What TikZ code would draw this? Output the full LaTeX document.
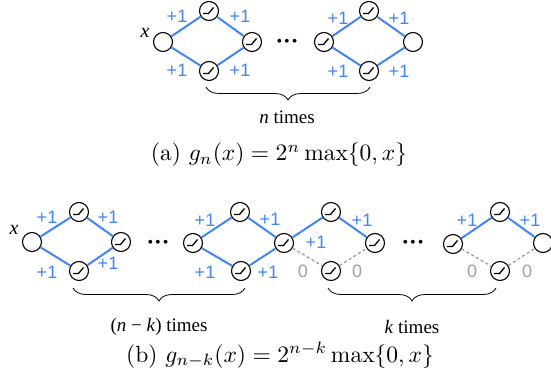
\documentclass[tikz,border=0pt]{standalone}
\usepackage{fontspec}
\usetikzlibrary{decorations.pathreplacing}
\newfontfamily\labfont{Liberation Sans}
\newfontfamily\timesfont{Liberation Serif}
\definecolor{eblue}{RGB}{66,133,244}
\definecolor{egray}{RGB}{160,160,160}
\begin{document}
\begin{tikzpicture}[x=1pt,y=-1pt,
  unit/.style={circle,draw=black,line width=1.1pt,fill=white,minimum size=19pt,inner sep=0pt},
  relu/.style={unit,path picture={\draw[line width=1.3pt,line join=round]
      ([xshift=-6pt,yshift=-2.5pt]path picture bounding box.center) -- ++(5.5pt,0) -- ++(5pt,6pt);}},
  wedge/.style={line width=2pt,draw=eblue},
  zedge/.style={line width=1.4pt,draw=egray,dash pattern=on 3pt off 2.5pt},
  wlab/.style={text=eblue,font=\labfont\fontsize{18}{18}\selectfont,inner sep=0pt},
  zlab/.style={text=egray,font=\labfont\fontsize{18}{18}\selectfont,inner sep=0pt},
  xlab/.style={font=\timesfont\itshape\fontsize{20}{20}\selectfont,inner sep=0pt},
  tlab/.style={font=\timesfont\fontsize{19}{19}\selectfont,inner sep=0pt},
  dotsnode/.style={font=\timesfont\fontsize{16}{16}\selectfont,inner sep=0pt},
  captext/.style={inner sep=0pt},
  brc/.style={decorate,decoration={brace,mirror,amplitude=13pt},line width=0.8pt}
]
\path[use as bounding box] (0,0) rectangle (551,380);

% ---------- (a) ----------
\node[unit] (a0) at (163,42) {};
\node[relu] (a1) at (209,11) {};
\node[relu] (a2) at (209,71) {};
\node[relu] (a3) at (252,42) {};
\node[dotsnode] (adots) at (287,43) {•\hspace{2pt}•\hspace{2pt}•};
\node[relu] (a4) at (324,42) {};
\node[relu] (a5) at (369,11) {};
\node[relu] (a6) at (369,71) {};
\node[unit] (a7) at (413,42) {};
\draw[wedge] (a0) -- (a1); \draw[wedge] (a1) -- (a3);
\draw[wedge] (a0) -- (a2); \draw[wedge] (a2) -- (a3);
\draw[wedge] (a4) -- (a5); \draw[wedge] (a5) -- (a7);
\draw[wedge] (a4) -- (a6); \draw[wedge] (a6) -- (a7);
\node[xlab] (ax) at (145,33) {x};
\node[wlab] (al1) at (177,16) {+1};
\node[wlab] (al2) at (240,16) {+1};
\node[wlab] (al3) at (177,70) {+1};
\node[wlab] (al4) at (240,70) {+1};
\node[wlab] (al5) at (338,18) {+1};
\node[wlab] (al6) at (399,18) {+1};
\node[wlab] (al7) at (338,71) {+1};
\node[wlab] (al8) at (399,71) {+1};
\coordinate (abl) at (206,87);
\coordinate (abr) at (370,87);
\draw[brc] (abl) -- (abr);
\node[tlab] (atimes) at (287,117) {\textit{n} times};
\node[captext] (acap) at (279,155) {\scalebox{2.35}{(a) $g_n(x) = 2^n \max\{0,x\}$}};

% ---------- (b) ----------
\node[unit] (b0) at (32,242) {};
\node[relu] (b1) at (79,212) {};
\node[relu] (b2) at (79,271) {};
\node[relu] (b3) at (121,242) {};
\node[dotsnode] (bdots) at (158,244) {•\hspace{2pt}•\hspace{2pt}•};
\node[relu] (c0) at (193,243) {};
\node[relu] (c1) at (240,212) {};
\node[relu] (c2) at (241,271) {};
\node[relu] (c3) at (284,243) {};
\node[relu] (d1) at (331,212) {};
\node[relu] (d2) at (331,271) {};
\node[relu] (d3) at (375,243) {};
\node[dotsnode] (ddots) at (413,244) {•\hspace{2pt}•\hspace{2pt}•};
\node[relu] (e0) at (453,244) {};
\node[relu] (e1) at (500,212) {};
\node[relu] (e2) at (500,271) {};
\node[unit] (e3) at (543,243) {};
\draw[wedge] (b0) -- (b1); \draw[wedge] (b1) -- (b3);
\draw[wedge] (b0) -- (b2); \draw[wedge] (b2) -- (b3);
\draw[wedge] (c0) -- (c1); \draw[wedge] (c1) -- (c3);
\draw[wedge] (c0) -- (c2); \draw[wedge] (c2) -- (c3);
\draw[wedge] (c3) -- (d1); \draw[wedge] (d1) -- (d3);
\draw[zedge] (c3) -- (d2); \draw[zedge] (d2) -- (d3);
\draw[wedge] (e0) -- (e1); \draw[wedge] (e1) -- (e3);
\draw[zedge] (e0) -- (e2); \draw[zedge] (e2) -- (e3);
\node[xlab] (bx) at (14,230) {x};
\node[wlab] (bl1) at (47,217) {+1};
\node[wlab] (bl2) at (108,217) {+1};
\node[wlab] (bl3) at (47,272) {+1};
\node[wlab] (bl4) at (108,263) {+1};
\node[wlab] (cl1) at (205,220) {+1};
\node[wlab] (cl2) at (270,219) {+1};
\node[wlab] (cl3) at (205,272) {+1};
\node[wlab] (cl4) at (268,272) {+1};
\node[wlab] (dl1) at (316,242) {+1};
\node[wlab] (dl2) at (362,220) {+1};
\node[zlab] (dl3) at (303,271) {0};
\node[zlab] (dl4) at (357,271) {0};
\node[wlab] (el1) at (467,220) {+1};
\node[wlab] (el2) at (530,220) {+1};
\node[zlab] (el3) at (472,271) {0};
\node[zlab] (el4) at (527,271) {0};
\coordinate (bbl) at (73,288);
\coordinate (bbr) at (245,288);
\draw[brc] (bbl) -- (bbr);
\coordinate (kbl) at (328,288);
\coordinate (kbr) at (496,288);
\draw[brc] (kbl) -- (kbr);
\node[tlab] (btimes) at (159,327) {(\textit{n} − \textit{k}) times};
\node[tlab] (ktimes) at (412,327) {\textit{k} times};
\node[captext] (bcap) at (280,355) {\scalebox{2.35}{(b) $g_{n-k}(x) = 2^{n-k} \max\{0,x\}$}};
\end{tikzpicture}
\end{document}
